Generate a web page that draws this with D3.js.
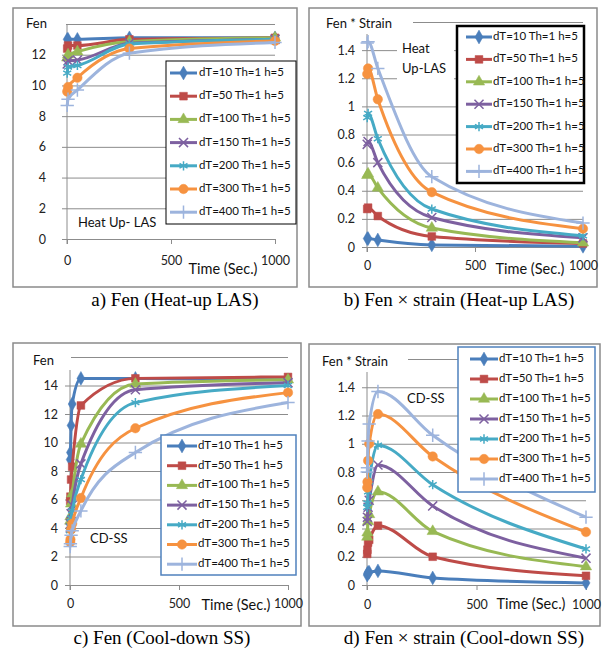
<!DOCTYPE html>
<html>
<head>
<meta charset="utf-8">
<script src="https://cdn.jsdelivr.net/npm/d3@7"></script>
<style>
  body { margin: 0; background: #fff; }
  svg { display: block; font-family: Lato, "Liberation Sans", sans-serif; }
</style>
</head>
<body>
<svg id="chart" width="603" height="649"></svg>
<script>
// ---- data ----
const seriesNames = [
  'dT=10 Th=1 h=5', 'dT=50 Th=1 h=5', 'dT=100 Th=1 h=5', 'dT=150 Th=1 h=5',
  'dT=200 Th=1 h=5', 'dT=300 Th=1 h=5', 'dT=400 Th=1 h=5'
];
const seriesColors = ['#4A7EBB', '#BE4B48', '#98B954', '#7D60A0', '#46AAC5', '#F69240', '#9DB4DD'];

const timesHeat = [1, 5, 50, 300, 1000];
const timesCool = [1, 2, 5, 10, 50, 300, 1000];

const fenHeat = [
  [13.0, 13.0, 13.0, 13.1, 13.1],
  [12.4, 12.6, 12.6, 13.0, 13.1],
  [11.8, 12.0, 12.2, 12.85, 13.1],
  [11.4, 11.6, 11.65, 12.75, 13.0],
  [10.8, 11.2, 11.3, 12.7, 13.0],
  [9.6, 9.9, 10.5, 12.4, 12.9],
  [8.7, 9.1, 9.7, 12.1, 12.8]
];
const strainHeat = [
  [0.06, 0.06, 0.05, 0.015, 0.005],
  [0.27, 0.28, 0.22, 0.075, 0.025],
  [0.51, 0.52, 0.42, 0.135, 0.03],
  [0.73, 0.75, 0.60, 0.21, 0.065],
  [0.92, 0.95, 0.77, 0.27, 0.08],
  [1.23, 1.27, 1.05, 0.39, 0.13],
  [1.45, 1.46, 1.27, 0.50, 0.17]
];
const fenCool = [
  [8.8, 9.3, 11.2, 12.7, 14.5, 14.5, 14.4],
  [5.9, 6.2, 7.4, 8.3, 12.6, 14.5, 14.6],
  [4.5, 4.8, 5.7, 6.4, 9.9, 14.1, 14.4],
  [4.0, 4.3, 5.0, 5.6, 8.5, 13.7, 14.2],
  [3.8, 4.1, 4.7, 5.2, 7.4, 12.8, 14.0],
  [3.0, 3.2, 3.9, 4.3, 6.1, 11.0, 13.5],
  [2.7, 2.9, 3.5, 3.8, 5.2, 9.3, 12.8]
];
const strainCool = [
  [0.07, 0.08, 0.09, 0.09, 0.10, 0.05, 0.015],
  [0.22, 0.25, 0.30, 0.32, 0.42, 0.20, 0.065],
  [0.34, 0.37, 0.45, 0.50, 0.66, 0.38, 0.13],
  [0.45, 0.48, 0.55, 0.60, 0.85, 0.56, 0.19],
  [0.55, 0.58, 0.66, 0.73, 0.99, 0.71, 0.255],
  [0.69, 0.73, 0.88, 1.00, 1.21, 0.91, 0.375],
  [0.80, 0.83, 1.02, 1.14, 1.37, 1.06, 0.48]
];

const xTicks = [0, 500, 1000];
const fenHeatTicks = [0, 2, 4, 6, 8, 10, 12, 14];
const fenCoolTicks = [0, 2, 4, 6, 8, 10, 12, 14, 16];
const strainTicks = [0, 0.2, 0.4, 0.6, 0.8, 1, 1.2, 1.4, 1.6];
// top tick label is hidden behind the axis title in every panel
const hiddenTick = { a: 14, b: 1.6, c: 16, d: 1.6 };

const captions = {
  a: 'a) Fen (Heat-up LAS)',
  b: 'b) Fen \u00D7 strain (Heat-up LAS)',
  c: 'c) Fen (Cool-down SS)',
  d: 'd) Fen \u00D7 strain (Cool-down SS)'
};

// ---- layout per panel ----
const panels = [
  {
    id: 'a', times: timesHeat, values: fenHeat, yTicks: fenHeatTicks, yMax: 14,
    box: [13, 8, 284, 279], x: [67, 275], y: [239, 24], labelGap: 21, xLabelY: 262,
    yTitle: 'Fen', yTitleX: 26, yTitleY: 25, titleBox: [22, 14, 44, 18],
    xTitleX: 223, xTitleY: 270,
    notes: [{ t: 'Heat Up- LAS', x: 78, y: 224 }],
    legend: { box: [166, 61, 130, 163], y0: 73, dy: 23.2, lx: [170, 197], tx: 199, stroke: '#000', sw: 1 },
    caption: [175, 302]
  },
  {
    id: 'b', times: timesHeat, values: strainHeat, yTicks: strainTicks, yMax: 1.6,
    box: [309, 8, 288, 279], x: [367, 583], y: [247, 22], labelGap: 12, xLabelY: 267,
    yTitle: 'Fen * Strain', yTitleX: 326, yTitleY: 25, titleBox: [320, 12, 93, 22],
    xTitleX: 530, xTitleY: 270,
    notes: [{ t: 'Heat', x: 402, y: 50 }, { t: 'Up-LAS', x: 402, y: 70 }], noteBox: [397, 40, 57, 40],
    legend: { box: [457, 26, 127, 157], y0: 37, dy: 22.4, lx: [466, 492], tx: 493, stroke: '#000', sw: 2.5 },
    caption: [459, 302]
  },
  {
    id: 'c', times: timesCool, values: fenCool, yTicks: fenCoolTicks, yMax: 16,
    box: [13, 343, 288, 283], x: [70, 288], y: [585, 357], labelGap: 12, xLabelY: 605,
    yTitle: 'Fen', yTitleX: 33, yTitleY: 362, titleBox: [28, 350, 43, 20],
    xTitleX: 236, xTitleY: 606,
    notes: [{ t: 'CD-SS', x: 90, y: 540 }],
    legend: { box: [161, 435, 135, 140], y0: 446, dy: 19.7, lx: [167, 197], tx: 198, stroke: '#4F81BD', sw: 1.5 },
    caption: [162, 640]
  },
  {
    id: 'd', times: timesCool, values: strainCool, yTicks: strainTicks, yMax: 1.6,
    box: [309, 344, 291, 282], x: [367, 586], y: [585, 359], labelGap: 12, xLabelY: 606,
    yTitle: 'Fen * Strain', yTitleX: 322, yTitleY: 363, titleBox: [318, 350, 90, 22],
    xTitleX: 531, xTitleY: 605,
    notes: [{ t: 'CD-SS', x: 407, y: 400 }],
    legend: { box: [458, 347, 137, 145], y0: 359, dy: 20, lx: [470, 498], tx: 499, stroke: '#4F81BD', sw: 1.5 },
    caption: [464, 640]
  }
];

const markers = [
  { type: d3.symbolDiamond, size: 55, fill: true },
  { type: d3.symbolSquare, size: 60, fill: true },
  { type: d3.symbolTriangle, size: 55, fill: true },
  { type: d3.symbolX, size: 55, fill: false },
  { type: d3.symbolAsterisk, size: 60, fill: false },
  { type: d3.symbolCircle, size: 70, fill: true },
  { type: d3.symbolPlus, size: 60, fill: false }
];

const svg = d3.select('#chart');
const gridColor = '#8c8c8c';

function drawMarker(g, i, x, y) {
  const m = markers[i];
  g.append('path')
    .attr('d', d3.symbol(m.type, m.size)())
    .attr('transform', `translate(${x},${y})`)
    .attr('fill', m.fill ? seriesColors[i] : 'none')
    .attr('stroke', seriesColors[i])
    .attr('stroke-width', m.fill ? 0.5 : 1.5);
}

panels.forEach(p => {
  const g = svg.append('g');

  // outer frame
  g.append('rect')
    .attr('x', p.box[0]).attr('y', p.box[1])
    .attr('width', p.box[2]).attr('height', p.box[3])
    .attr('fill', 'none').attr('stroke', '#8a8a8a').attr('stroke-width', 1.5);

  const xScale = d3.scaleLinear().domain([0, 1000]).range(p.x);
  const yScale = d3.scaleLinear().domain([0, p.yMax]).range(p.y);

  // gridlines + y ticks
  const yAxis = d3.axisLeft(yScale)
    .tickValues(p.yTicks)
    .tickSize(-(p.x[1] - p.x[0]))
    .tickSizeOuter(0)
    .tickPadding(p.labelGap)
    .tickFormat(d => d === hiddenTick[p.id] ? '' : d3.format('~g')(d));
  const ya = g.append('g').attr('transform', `translate(${p.x[0]},0)`).call(yAxis);
  ya.select('.domain').remove();
  ya.selectAll('.tick line').attr('stroke', gridColor).attr('x1', -5);
  ya.selectAll('.tick text').attr('font-size', 12.5).attr('fill', '#222').attr('font-family', 'Lato');

  // x axis
  const xAxis = d3.axisBottom(xScale).tickValues(xTicks).tickFormat(d3.format('d'))
    .tickSize(5).tickPadding(9).tickSizeOuter(0);
  const xa = g.append('g').attr('transform', `translate(0,${p.y[0]})`).call(xAxis);
  xa.select('.domain').attr('stroke', gridColor);
  xa.selectAll('.tick line').attr('stroke', gridColor);
  xa.selectAll('.tick text').attr('font-size', 12.5).attr('fill', '#222').attr('font-family', 'Lato')
    .attr('dy', null).attr('y', 0).attr('transform', `translate(0,${p.xLabelY - p.y[0]})`)
    .attr('dominant-baseline', 'middle');

  // y axis line
  g.append('line')
    .attr('x1', p.x[0]).attr('x2', p.x[0])
    .attr('y1', p.y[1]).attr('y2', p.y[0] + 5)
    .attr('stroke', gridColor);

  // inline text box
  if (p.noteBox) {
    g.append('rect')
      .attr('x', p.noteBox[0]).attr('y', p.noteBox[1])
      .attr('width', p.noteBox[2]).attr('height', p.noteBox[3])
      .attr('fill', '#fff');
  }
  p.notes.forEach(n => {
    g.append('text').attr('x', n.x).attr('y', n.y)
      .attr('dominant-baseline', 'middle')
      .attr('font-size', 13).attr('fill', '#111').text(n.t);
  });

  // series
  const line = d3.line()
    .x((d, j) => xScale(p.times[j]))
    .y(d => yScale(d))
    .curve(d3.curveMonotoneX);

  p.values.forEach((vals, i) => {
    g.append('path')
      .attr('d', line(vals))
      .attr('fill', 'none')
      .attr('stroke', seriesColors[i])
      .attr('stroke-width', 3)
      .attr('stroke-linejoin', 'round');
    const mg = g.append('g');
    vals.forEach((v, j) => drawMarker(mg, i, xScale(p.times[j]), yScale(v)));
  });

  // legend
  const L = p.legend;
  g.append('rect')
    .attr('x', L.box[0]).attr('y', L.box[1])
    .attr('width', L.box[2]).attr('height', L.box[3])
    .attr('fill', '#fff').attr('stroke', L.stroke).attr('stroke-width', L.sw);
  seriesNames.forEach((name, i) => {
    const yy = L.y0 + i * L.dy;
    g.append('line')
      .attr('x1', L.lx[0]).attr('x2', L.lx[1]).attr('y1', yy).attr('y2', yy)
      .attr('stroke', seriesColors[i]).attr('stroke-width', 3);
    drawMarker(g, i, (L.lx[0] + L.lx[1]) / 2, yy);
    g.append('text')
      .attr('x', L.tx).attr('y', yy)
      .attr('dominant-baseline', 'middle')
      .attr('font-size', 11.5).attr('fill', '#111')
      .text(name);
  });

  // y axis title with white backing
  g.append('rect')
    .attr('x', p.titleBox[0]).attr('y', p.titleBox[1])
    .attr('width', p.titleBox[2]).attr('height', p.titleBox[3])
    .attr('fill', '#fff');
  g.append('text')
    .attr('x', p.yTitleX).attr('y', p.yTitleY)
    .attr('dominant-baseline', 'middle')
    .attr('font-size', 13).attr('fill', '#111')
    .text(p.yTitle);

  // x axis title with white backing
  const xt = g.append('text')
    .attr('x', p.xTitleX).attr('y', p.xTitleY)
    .attr('text-anchor', 'middle')
    .attr('dominant-baseline', 'middle')
    .attr('font-size', 14.5).attr('fill', '#111')
    .text('Time (Sec.)');
  const bb = xt.node().getBBox();
  g.insert('rect', function () { return xt.node(); })
    .attr('x', bb.x - 3).attr('y', bb.y - 1)
    .attr('width', bb.width + 6).attr('height', bb.height + 2)
    .attr('fill', '#fff');

  // caption
  svg.append('text')
    .attr('x', p.caption[0]).attr('y', p.caption[1])
    .attr('text-anchor', 'middle')
    .attr('dominant-baseline', 'middle')
    .attr('font-family', '"Liberation Serif", "Times New Roman", serif')
    .attr('font-size', 19).attr('fill', '#000')
    .text(captions[p.id]);
});
</script>
</body>
</html>
